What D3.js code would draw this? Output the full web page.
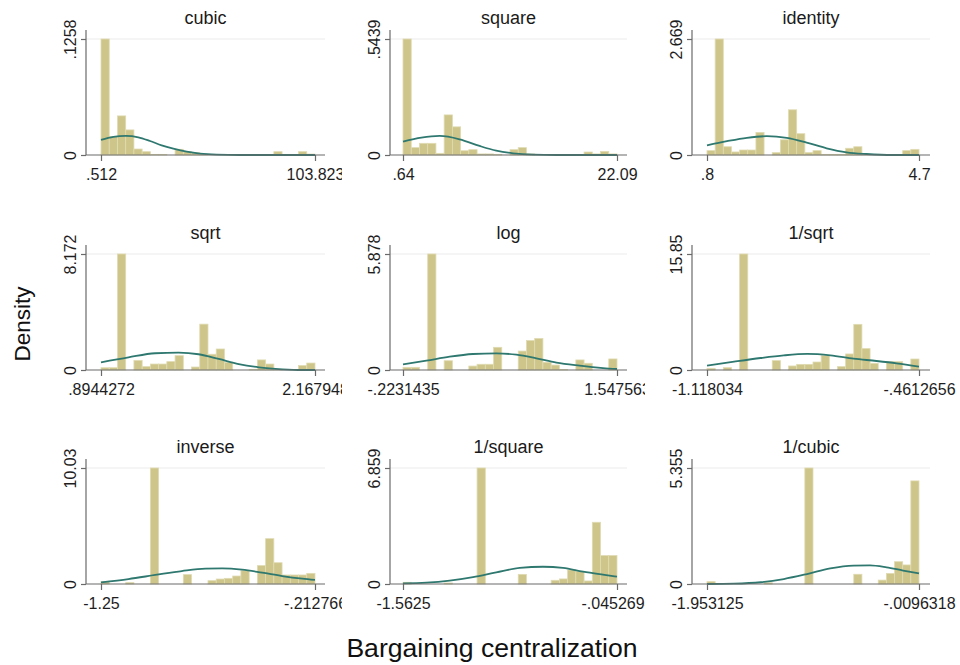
<!DOCTYPE html>
<html><head><meta charset="utf-8">
<script src="https://cdn.jsdelivr.net/npm/d3@7"></script>
<style>body{margin:0;background:#fff}svg{display:block}text{font-family:"Liberation Sans",Arial,sans-serif}</style>
</head><body><svg id="chart" width="960" height="665"></svg>
<script>
const panelTitles = ["cubic","square","identity","sqrt","log","1/sqrt","inverse","1/square","1/cubic"];
const xMinValues = [0.512, 0.64, 0.8, 0.8944272, -0.2231435, -1.118034, -1.25, -1.5625, -1.953125];
const xMaxValues = [103.823, 22.09, 4.7, 2.167948, 1.547563, -0.4612656, -0.212766, -0.0452694, -0.0096318];
const xMinLabels = [".512", ".64", ".8", ".8944272", "-.2231435", "-1.118034", "-1.25", "-1.5625", "-1.953125"];
const xMaxLabels = ["103.823", "22.09", "4.7", "2.167948", "1.547563", "-.4612656", "-.212766", "-.0452694", "-.0096318"];
const yMaxValues = [0.1258, 0.5439, 2.669, 8.172, 5.878, 15.85, 10.03, 6.859, 5.355];
const yMaxLabels = [".1258", ".5439", "2.669", "8.172", "5.878", "15.85", "10.03", "6.859", "5.355"];
const binCount = 26;

const densCubic = [0.1258, 0.0199, 0.0424, 0.0272, 0.0065, 0.0036, 0.0007, 0.0007, 0, 0.0062, 0.0036, 0.0025, 0.001, 0, 0, 0, 0, 0, 0, 0, 0, 0.0036, 0.0007, 0, 0.0036, 0.001];
const densSquare = [0.5439, 0.0345, 0.0548, 0.0548, 0.0078, 0.188, 0.132, 0.020, 0.025, 0.005, 0.005, 0.003, 0, 0.025, 0.0345, 0.005, 0, 0, 0, 0, 0, 0, 0.014, 0.005, 0.017, 0.005];
const densIdentity = [0.10, 2.669, 0.19, 0.07, 0.115, 0.115, 0.52, 0, 0.054, 0.35, 1.04, 0.49, 0.054, 0.10, 0.015, 0.015, 0.015, 0.155, 0.19, 0.015, 0, 0, 0, 0, 0.10, 0.13];
const densSqrt = [0.16, 0.16, 8.172, 0, 0.68, 0.24, 0.42, 0.42, 0.59, 1.01, 0, 0.21, 3.23, 1.11, 1.48, 0.54, 0, 0, 0.05, 0.71, 0.42, 0.05, 0, 0, 0.31, 0.49];
const densLog = [0.135, 0.135, 0, 5.878, 0, 0.47, 0, 0, 0.20, 0.29, 0.29, 1.15, 0, 0, 0.96, 1.49, 1.60, 0.39, 0.25, 0.03, 0, 0.51, 0.34, 0, 0, 0.56];
const densInvSqrt = [0.23, 0, 0.32, 0, 15.85, 0, 0, 0, 1.28, 0, 0.55, 0.77, 0.77, 1.09, 1.96, 0, 0.46, 2.19, 6.24, 2.92, 0.91, 0, 1.14, 1.14, 0, 1.50];
const densInverse = [0.20, 0, 0, 0.12, 0, 0, 10.03, 0, 0, 0, 0.81, 0, 0, 0.29, 0.43, 0.49, 0.69, 1.15, 0, 1.59, 3.92, 1.84, 0.78, 0.78, 0.78, 0.92];
const densInvSquare = [0.10, 0, 0, 0, 0, 0.06, 0, 0, 0, 6.859, 0, 0, 0, 0, 0.57, 0, 0, 0, 0.22, 0.30, 0.83, 0.73, 0.18, 3.65, 1.68, 1.68];
const densInvCubic = [0.11, 0, 0, 0, 0, 0, 0, 0.06, 0, 0, 0, 0, 5.355, 0, 0, 0, 0, 0, 0.45, 0, 0, 0.18, 0.49, 1.03, 0.88, 4.76];

const curveCubic = [[0.512,0.0163],[6.47,0.0196],[12.42,0.0207],[18.54,0.0192],[24.17,0.0152],[29.8,0.0105],[35.43,0.0069],[41.87,0.0036],[48.31,0.0015],[56.35,0.0004],[67.6,0],[103.823,0]];
const curveSquare = [[0.64,0.0627],[2.48,0.0815],[4.32,0.0893],[6.32,0.0736],[8.32,0.0423],[9.99,0.0204],[11.67,0.0078],[13.67,0.0016],[16.0,0],[22.09,0]];
const curveIdentity = [[0.8,0.224],[1.167,0.317],[1.534,0.395],[1.90,0.433],[2.267,0.395],[2.634,0.286],[3.0,0.155],[3.367,0.062],[3.734,0.023],[4.22,0],[4.7,0]];
const curveSqrt = [[0.8944,0.54],[1.058,0.89],[1.217,1.18],[1.356,1.22],[1.475,1.11],[1.595,0.78],[1.714,0.42],[1.834,0.19],[1.973,0.05],[2.092,0],[2.168,0]];
const curveLog = [[-0.2231,0.287],[-0.030,0.473],[0.163,0.676],[0.356,0.811],[0.549,0.845],[0.715,0.777],[0.880,0.591],[1.046,0.372],[1.239,0.22],[1.432,0.10],[1.5476,0.05]];
const curveInvSqrt = [[-1.118,0.59],[-1.034,1.14],[-0.952,1.64],[-0.880,2.00],[-0.808,2.19],[-0.736,2.00],[-0.664,1.55],[-0.593,1.23],[-0.531,0.91],[-0.4613,0.46]];
const curveInverse = [[-1.25,0.14],[-1.117,0.43],[-0.987,0.78],[-0.858,1.12],[-0.744,1.33],[-0.663,1.35],[-0.566,1.24],[-0.469,0.98],[-0.372,0.69],[-0.274,0.46],[-0.2128,0.35]];
const curveInvSquare = [[-1.5625,0.04],[-1.397,0.08],[-1.232,0.20],[-1.066,0.41],[-0.901,0.69],[-0.735,0.95],[-0.570,1.02],[-0.428,0.95],[-0.286,0.73],[-0.145,0.55],[-0.0453,0.43]];
const curveInvCubic = [[-1.953,0],[-1.704,0.015],[-1.461,0.08],[-1.249,0.23],[-1.036,0.46],[-0.823,0.72],[-0.611,0.85],[-0.459,0.86],[-0.307,0.77],[-0.155,0.62],[-0.0096,0.49]];

const panelDensities = [densCubic, densSquare, densIdentity, densSqrt, densLog, densInvSqrt, densInverse, densInvSquare, densInvCubic];
const panelCurves = [curveCubic, curveSquare, curveIdentity, curveSqrt, curveLog, curveInvSqrt, curveInverse, curveInvSquare, curveInvCubic];

const yAxisTitle = "Density";
const xAxisTitle = "Bargaining centralization";

// layout
const cols = [
  {axis:86, x0:101, x1:315, right:325, clipL:40, clipR:342},
  {axis:390, x0:403, x1:617, right:627, clipL:342, clipR:645},
  {axis:692, x0:707, x1:919, right:930, clipL:645, clipR:960}
];
const rows = [{top:39, base:155},{top:254, base:370},{top:468, base:584}];
const barFill = "#cdc589", barStroke = "#e0dbb3", curveColor = "#2e7870", axisColor = "#6a6a6a";

const svg = d3.select("#chart");
svg.append("rect").attr("width",960).attr("height",665).attr("fill","#fff");
const defs = svg.append("defs");

panelTitles.forEach((title, p) => {
  const c = cols[p % 3], r = rows[Math.floor(p / 3)];
  const clipId = "clip" + p;
  defs.append("clipPath").attr("id", clipId).append("rect")
    .attr("x", c.clipL).attr("y", r.top - 40).attr("width", c.clipR - c.clipL).attr("height", r.base - r.top + 90);
  const g = svg.append("g").attr("clip-path", `url(#${clipId})`);
  const x = d3.scaleLinear().domain([xMinValues[p], xMaxValues[p]]).range([c.x0, c.x1]);
  const y = d3.scaleLinear().domain([0, yMaxValues[p]]).range([r.base, r.top]);

  // grid line at top tick
  g.append("line").attr("x1", c.axis).attr("x2", c.right).attr("y1", y(yMaxValues[p])).attr("y2", y(yMaxValues[p]))
    .attr("stroke", "#ebebeb").attr("stroke-width", 1);

  // bars
  const w = (xMaxValues[p] - xMinValues[p]) / binCount;
  const bins = panelDensities[p].map((d, i) => ({x0: xMinValues[p] + i * w, x1: xMinValues[p] + (i + 1) * w, d}));
  g.selectAll("rect.bar").data(bins.filter(b => b.d > 0)).join("rect").attr("class","bar")
    .attr("x", b => x(b.x0)).attr("width", b => x(b.x1) - x(b.x0))
    .attr("y", b => y(b.d)).attr("height", b => y(0) - y(b.d))
    .attr("fill", barFill).attr("stroke", barStroke).attr("stroke-width", 0.8);

  // normal density curve
  const line = d3.line().x(d => x(d[0])).y(d => y(d[1])).curve(d3.curveMonotoneX);
  g.append("path").datum(panelCurves[p]).attr("d", line).attr("fill", "none")
    .attr("stroke", curveColor).attr("stroke-width", 1.8);

  // axis lines
  g.append("line").attr("x1", c.axis).attr("x2", c.axis).attr("y1", r.top - 9).attr("y2", r.base)
    .attr("stroke", axisColor).attr("stroke-width", 1.2);
  g.append("line").attr("x1", c.axis).attr("x2", c.right).attr("y1", r.base).attr("y2", r.base)
    .attr("stroke", axisColor).attr("stroke-width", 1.2);

  // y axis
  const yAxis = d3.axisLeft(y).tickValues([0, yMaxValues[p]]).tickSize(5).tickPadding(0)
    .tickFormat((d, i) => i === 0 ? "0" : yMaxLabels[p]);
  const ya = g.append("g").attr("transform", `translate(${c.axis},0)`).call(yAxis);
  ya.select(".domain").remove();
  ya.selectAll(".tick line").attr("stroke", axisColor).attr("stroke-width", 1.2);
  ya.selectAll(".tick text").attr("transform", "rotate(-90)").attr("x", 0).attr("y", -10)
    .attr("dy", 0).attr("text-anchor", "middle").attr("font-size", 16).attr("fill", "#1e1e1e")
    .attr("font-family", "Liberation Sans, Arial, sans-serif");

  // x axis
  const xAxis = d3.axisBottom(x).tickValues([xMinValues[p], xMaxValues[p]]).tickSize(6).tickPadding(0)
    .tickFormat((d, i) => i === 0 ? xMinLabels[p] : xMaxLabels[p]);
  const xa = g.append("g").attr("transform", `translate(0,${r.base})`).call(xAxis);
  xa.select(".domain").remove();
  xa.selectAll(".tick line").attr("stroke", axisColor).attr("stroke-width", 1.2);
  xa.selectAll(".tick text").attr("y", 25).attr("dy", 0).attr("font-size", 16).attr("fill", "#1e1e1e")
    .attr("font-family", "Liberation Sans, Arial, sans-serif");

  // title
  g.append("text").attr("x", (c.axis + c.right) / 2).attr("y", r.top - 15).attr("text-anchor", "middle")
    .attr("font-size", 18).attr("fill", "#1a1a1a").text(title);
});

svg.append("text").attr("transform", "translate(30,324) rotate(-90)").attr("text-anchor", "middle")
  .attr("font-size", 22.5).attr("fill", "#111").text(yAxisTitle);
svg.append("text").attr("x", 492).attr("y", 657).attr("text-anchor", "middle")
  .attr("font-size", 26.6).attr("fill", "#111").text(xAxisTitle);
</script></body></html>
